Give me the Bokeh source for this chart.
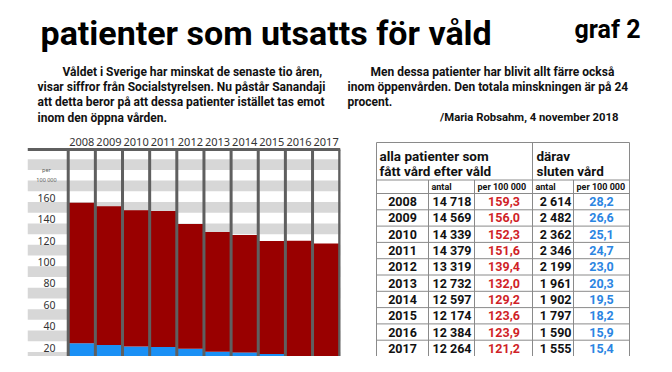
from bokeh.plotting import figure
from bokeh.layouts import column, row
from bokeh.models import Range1d, BoxAnnotation, Label, Span
from bokeh.core.properties import value
from bokeh.embed import file_html
from bokeh.resources import INLINE

# ---------------- data ----------------
years = [2008, 2009, 2010, 2011, 2012, 2013, 2014, 2015, 2016, 2017]
antal_alla = [14718, 14569, 14339, 14379, 13319, 12732, 12597, 12174, 12384, 12264]
per100k_alla = [159.3, 156.0, 152.3, 151.6, 139.4, 132.0, 129.2, 123.6, 123.9, 121.2]
antal_sluten = [2614, 2482, 2362, 2346, 2199, 1961, 1902, 1797, 1590, 1555]
per100k_sluten = [28.2, 26.6, 25.1, 24.7, 23.0, 20.3, 19.5, 18.2, 15.9, 15.4]
y_ticks = [20, 40, 60, 80, 100, 120, 140, 160]
band_starts = [10, 30, 50, 70, 90, 110, 130, 150, 170, 190]

title = "patienter som utsatts för våld"
graf_label = "graf 2"
left_par = ["Våldet i Sverige har minskat de senaste tio åren,",
            "visar siffror från Socialstyrelsen. Nu påstår Sanandaji",
            "att detta beror på att dessa patienter istället tas emot",
            "inom den öppna vården."]
right_par = ["Men dessa patienter har blivit allt färre också",
             "inom öppenvården. Den totala minskningen är på 24",
             "procent."]
signature = "/Maria Robsahm, 4 november 2018"

HEAD = value("Roboto")
CHART_FONT = value("Noto Sans")
RED = "#990000"
BLUE = "#1a90f5"
TRED = "#d01f28"
TBLUE = "#2b85e2"
SEP = "#5f5f5f"

HDR_H = 126
LOW_H = 356 - HDR_H


def fmt_int(v):
    return f"{v:,}".replace(",", " ")


def fmt_dec(v):
    return f"{v:.1f}".replace(".", ",")


def canvas(w, h, x0, y0):
    p = figure(width=w, height=h, x_range=Range1d(x0, x0 + w), y_range=Range1d(y0 + h, y0),
               x_axis_type=None, y_axis_type=None, toolbar_location=None, title=None,
               output_backend="svg", min_border=0, outline_line_color=None)
    return p


# ---------------- header ----------------
hdr = canvas(656, HDR_H, 0, 0)
hdr.text(x=[40], y=[32.5], text=[title], text_font=HEAD, text_font_size="34px",
         text_font_style="bold", text_baseline="middle", text_color="black")
hdr.text(x=[640], y=[28.5], text=[graf_label], text_font=HEAD, text_font_size="25px",
         text_font_style="bold", text_baseline="middle", text_align="right", text_color="black")
lx = [62, 37, 37, 37]
ly = [71, 86, 101, 117]
hdr.text(x=lx, y=ly, text=left_par, text_font=HEAD, text_font_size="12px",
         text_font_style="bold", text_baseline="middle", text_color="#111")
rx = [370, 347, 347]
hdr.text(x=rx, y=ly[:3], text=right_par, text_font=HEAD, text_font_size="12px",
         text_font_style="bold", text_baseline="middle", text_color="#111")
hdr.text(x=[618], y=[ly[3]], text=[signature], text_font=HEAD, text_font_size="11.3px",
         text_font_style="bold", text_baseline="middle", text_align="right", text_color="#111")

# ---------------- bar chart ----------------
CHART_TOP = 209.1      # value at the chart's top rule
YEAR_LABEL_Y = 216.0   # value where the year labels sit
LABEL_OFFSET = 4.0     # tick labels sit slightly above their gridline value
bar = figure(width=342, height=LOW_H, x_range=Range1d(2006.0, 2017.53), y_range=Range1d(15.8, 230.5),
             toolbar_location=None, output_backend="svg", title=None,
             x_axis_location=None, y_axis_location=None, min_border_left=27, min_border_right=2,
             min_border_top=0, min_border_bottom=0, outline_line_color=None)
bar.grid.visible = False
for b in band_starts:
    bar.add_layout(BoxAnnotation(bottom=b, top=b + 10, fill_color="#d7d7d7", fill_alpha=1,
                                 line_color=None, level="underlay"))
bar.vbar(x=years, width=1, bottom=0, top=per100k_sluten, fill_color=BLUE, line_color=None)
bar.vbar(x=years, width=1, bottom=per100k_sluten, top=per100k_alla, fill_color=RED, line_color=None)

separators = [y - 0.5 for y in years] + [years[-1] + 0.5]
bar.segment(x0=separators, x1=separators, y0=[0] * len(separators), y1=[CHART_TOP] * len(separators),
            line_color=SEP, line_width=3)
bar.add_layout(Span(location=CHART_TOP, dimension="width", line_color=SEP, line_width=3))

bar.text(x=years, y=[YEAR_LABEL_Y] * len(years), text=[str(y) for y in years],
         text_align="center", text_baseline="middle", text_font=CHART_FONT,
         text_font_size="11px", text_color="#333333")
bar.text(x=[2007.03] * len(y_ticks), y=[t + LABEL_OFFSET for t in y_ticks], text=[str(t) for t in y_ticks],
         text_align="right", text_baseline="middle", text_font=CHART_FONT,
         text_font_size="10.5px", text_color="#333333")
bar.add_layout(Label(x=2006.7, y=185, text="per\n100 000", text_align="center",
                     text_baseline="middle", text_font="Noto Sans", text_font_size="5.5px",
                     text_color="#555555"))

# ---------------- table ----------------
tab = canvas(314, LOW_H, 342, HDR_H)
col_x = [376, 428, 474, 532, 573, 629]
top_y = 142
head_y = 179.5
sub_y = 193
row_h = 16.3
bottom_y = 380
row_lines = [top_y, head_y, sub_y] + [sub_y + row_h * (i + 1) for i in range(len(years))]
tab.segment(x0=[col_x[0]] * len(row_lines), x1=[col_x[-1]] * len(row_lines), y0=row_lines, y1=row_lines,
            line_color="#8a8a8a", line_width=1)
vx = col_x
vy0 = [top_y, head_y, head_y, top_y, head_y, top_y]
tab.segment(x0=vx, x1=vx, y0=vy0, y1=[bottom_y] * len(vx), line_color="#8a8a8a", line_width=1)

tab.text(x=[379, 379, 536, 536], y=[155.5, 170.5, 155.5, 170.5],
         text=["alla patienter som", "fått vård efter våld", "därav", "sluten vård"],
         text_font=HEAD, text_font_size="13.5px", text_font_style="bold",
         text_baseline="middle", text_color="#111")
tab.text(x=[431, 477, 535, 576], y=[(head_y + sub_y) / 2] * 4,
         text=["antal", "per 100 000", "antal", "per 100 000"],
         text_font=HEAD, text_font_size="9px", text_font_style="bold",
         text_baseline="middle", text_color="#111")

row_y = [sub_y + row_h * (i + 0.5) for i in range(len(years))]
n = len(years)
DATA_FS = "12.5px"
tab.text(x=[402] * n, y=row_y, text=[str(y) for y in years], text_font=HEAD, text_font_size=DATA_FS,
         text_font_style="bold", text_align="center", text_baseline="middle", text_color="#111")
tab.text(x=[471] * n, y=row_y, text=[fmt_int(v) for v in antal_alla], text_font=HEAD,
         text_font_size=DATA_FS, text_font_style="bold", text_align="right", text_baseline="middle",
         text_color="#111")
tab.text(x=[503.5] * n, y=row_y, text=[fmt_dec(v) for v in per100k_alla], text_font=HEAD,
         text_font_size=DATA_FS, text_font_style="bold", text_align="center", text_baseline="middle",
         text_color=TRED)
tab.text(x=[571] * n, y=row_y, text=[fmt_int(v) for v in antal_sluten], text_font=HEAD,
         text_font_size=DATA_FS, text_font_style="bold", text_align="right", text_baseline="middle",
         text_color="#111")
tab.text(x=[601] * n, y=row_y, text=[fmt_dec(v) for v in per100k_sluten], text_font=HEAD,
         text_font_size=DATA_FS, text_font_style="bold", text_align="center", text_baseline="middle",
         text_color=TBLUE)

layout = column(hdr, row(bar, tab))
open("out.html", "w").write(file_html(layout, INLINE))
